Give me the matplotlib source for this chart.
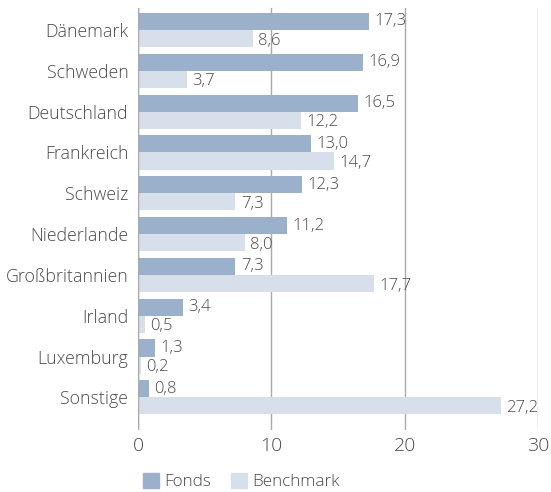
import numpy as np
import matplotlib.pyplot as plt
from matplotlib.patches import Patch

countries = ["Dänemark", "Schweden", "Deutschland", "Frankreich", "Schweiz",
             "Niederlande", "Großbritannien", "Irland", "Luxemburg", "Sonstige"]
fonds = [17.3, 16.9, 16.5, 13.0, 12.3, 11.2, 7.3, 3.4, 1.3, 0.8]
benchmark = [8.6, 3.7, 12.2, 14.7, 7.3, 8.0, 17.7, 0.5, 0.2, 27.2]
xticks = [0, 10, 20, 30]

c_fonds = "#9AB0CB"
c_bench = "#D6DFEA"
txt = "#4A4A4A"

plt.rcParams['font.family'] = ['Open Sans', 'DejaVu Sans']
plt.rcParams['font.weight'] = 'light'

fig = plt.figure(figsize=(5.51, 4.92), dpi=100)
ax = fig.add_axes([138 / 551, 1 - 430 / 492, 400 / 551, 422 / 492])

y = np.arange(len(countries))
h = 0.42
ax.barh(y - h / 2, fonds, height=h, color=c_fonds, zorder=3)
ax.barh(y + h / 2, benchmark, height=h, color=c_bench, zorder=3)

def fmt(v):
    return f"{v:.1f}".replace(".", ",")

for i in range(len(countries)):
    ax.text(fonds[i] + 0.4, y[i] - h / 2, fmt(fonds[i]), va="center", ha="left",
            fontsize=12, color=txt)
    ax.text(benchmark[i] + 0.4, y[i] + h / 2 + 0.05, fmt(benchmark[i]), va="center",
            ha="left", fontsize=12, color=txt)

ax.set_ylim(len(countries) - 1 + 0.8, -0.54)
ax.set_xlim(0, 30)
ax.set_xticks(xticks)
ax.set_xticklabels([str(t) for t in xticks], fontsize=14, color=txt)
ax.set_yticks(y)
ax.set_yticklabels(countries, fontsize=12.8, color=txt)
ax.tick_params(axis="both", length=0, pad=7)
ax.tick_params(axis="x", pad=5)

for s in ax.spines.values():
    s.set_visible(False)
ax.grid(axis="x", color="#AAAAAA", linewidth=1, zorder=0)
ax.axvline(0, color="#AAAAAA", linewidth=1, zorder=4)

handles = [Patch(color=c_fonds, label="Fonds"), Patch(color=c_bench, label="Benchmark")]
fig.legend(handles=handles, loc="lower left", bbox_to_anchor=(128 / 551, -0.028), ncol=2,
           frameon=False, fontsize=12.3, labelcolor=txt, handlelength=0.9, handleheight=0.9,
           handletextpad=0.3, columnspacing=1.2)

fig.savefig("out.png", dpi=100)
